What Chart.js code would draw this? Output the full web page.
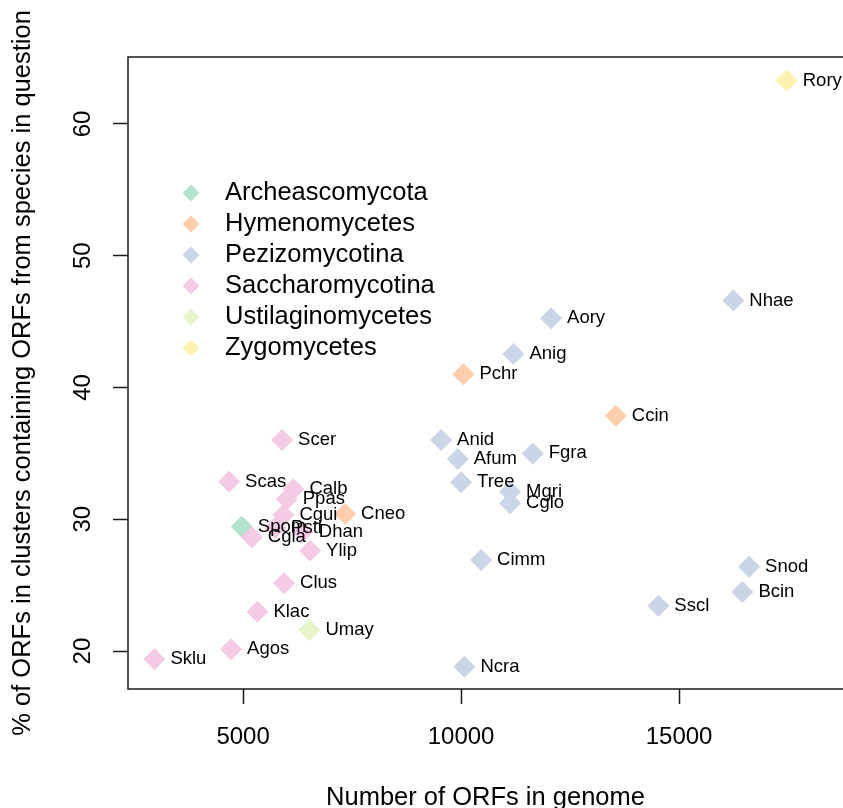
<!DOCTYPE html>
<html><head><meta charset="utf-8">
<script src="https://cdn.jsdelivr.net/npm/chart.js@4"></script>
<style>html,body{margin:0;padding:0;background:#fff;overflow:hidden}canvas{display:block}</style>
</head><body>
<canvas id="c" width="843" height="808"></canvas>
<script>
// ---- data ----
const species = ['Rory','Nhae','Aory','Anig','Pchr','Ccin','Anid','Afum','Fgra','Tree','Mgri','Cglo','Cimm','Ncra','Snod','Bcin','Sscl',
  'Scer','Scas','Calb','Ppas','Cgui','Cneo','Spom','Cgla','Psti','Dhan','Ylip','Clus','Klac','Umay','Agos','Sklu'];
const orfCounts = [17470,16245,12064,11200,10053,13548,9541,9924,11644,10000,11124,11124,10459,10076,16606,16452,14525,
  5894,4679,6154,6002,5924,7339,4970,5200,5734,6369,6537,5940,5328,6521,4725,2966];
const percentInClusters = [63.3,46.6,45.25,42.54,41.0,37.86,36.02,34.57,35.0,32.8,32.09,31.21,26.9,18.81,26.4,24.48,23.44,
  36.02,32.85,32.27,31.51,30.32,30.4,29.43,28.63,29.34,29.05,27.61,25.14,22.98,21.59,20.13,19.37];
const speciesClade = ['Zygomycetes','Pezizomycotina','Pezizomycotina','Pezizomycotina','Hymenomycetes','Hymenomycetes',
  'Pezizomycotina','Pezizomycotina','Pezizomycotina','Pezizomycotina','Pezizomycotina','Pezizomycotina','Pezizomycotina',
  'Pezizomycotina','Pezizomycotina','Pezizomycotina','Pezizomycotina',
  'Saccharomycotina','Saccharomycotina','Saccharomycotina','Saccharomycotina','Saccharomycotina','Hymenomycetes',
  'Archeascomycota','Saccharomycotina','Saccharomycotina','Saccharomycotina','Saccharomycotina','Saccharomycotina',
  'Saccharomycotina','Ustilaginomycetes','Saccharomycotina','Saccharomycotina'];
const clades = ['Archeascomycota','Hymenomycetes','Pezizomycotina','Saccharomycotina','Ustilaginomycetes','Zygomycetes'];
const xTicks = [5000,10000,15000];
const yTicks = [20,30,40,50,60];
const xTitle = 'Number of ORFs in genome';
const yTitle = '% of ORFs in clusters containing ORFs from species in question';

// ---- styles ----
const cladeColors = ['#B3E2CD','#FDCDAC','#CBD5E8','#F4CAE4','#E6F5C9','#FFF2AE'];
const FONT = "'Liberation Sans', Arial, Helvetica, sans-serif";
const AXIS_COLOR = '#1a1a1a';

const datasets = clades.map((cl, ci) => ({
  label: cl,
  data: species.map((s, i) => ({x: orfCounts[i], y: percentInClusters[i], name: s}))
               .filter((d, i) => speciesClade[i] === cl),
  pointStyle: 'rectRot',
  pointRadius: 11,
  pointHoverRadius: 11,
  pointBorderWidth: 0,
  backgroundColor: cladeColors[ci],
  borderColor: cladeColors[ci],
  order: cl === 'Saccharomycotina' ? 0 : 1
}));

const framePlugin = {
  id: 'frame',
  afterDraw(chart) {
    const {ctx, chartArea: a} = chart;
    ctx.save();
    ctx.strokeStyle = AXIS_COLOR; ctx.lineWidth = 1.5;
    ctx.beginPath();
    ctx.moveTo(a.right + 2, a.top); ctx.lineTo(a.left, a.top);
    ctx.lineTo(a.left, a.bottom); ctx.lineTo(a.right + 2, a.bottom);
    ctx.stroke();
    ctx.restore();
  }
};

const pointLabelPlugin = {
  id: 'pointLabels',
  afterDatasetsDraw(chart) {
    const ctx = chart.ctx;
    ctx.save();
    ctx.font = '18.5px ' + FONT;
    ctx.fillStyle = '#000';
    ctx.textBaseline = 'middle';
    ctx.textAlign = 'left';
    chart.data.datasets.forEach((ds, di) => {
      chart.getDatasetMeta(di).data.forEach((pt, i) => {
        ctx.fillText(ds.data[i].name, pt.x + 16, pt.y);
      });
    });
    ctx.restore();
  }
};

const insideLegendPlugin = {
  id: 'insideLegend',
  afterDraw(chart, args, opts) {
    const ctx = chart.ctx;
    ctx.save();
    ctx.font = opts.fontSize + 'px ' + FONT;
    ctx.textBaseline = 'middle';
    ctx.textAlign = 'left';
    chart.data.datasets.forEach((ds, i) => {
      const cx = opts.x, cy = opts.y + i * opts.step, r = opts.r;
      ctx.fillStyle = ds.backgroundColor;
      ctx.beginPath();
      ctx.moveTo(cx, cy - r); ctx.lineTo(cx + r, cy); ctx.lineTo(cx, cy + r); ctx.lineTo(cx - r, cy);
      ctx.closePath(); ctx.fill();
      ctx.fillStyle = '#000';
      ctx.fillText(ds.label, opts.textX, cy);
    });
    ctx.restore();
  }
};

new Chart(document.getElementById('c'), {
  type: 'scatter',
  data: {datasets},
  options: {
    responsive: false,
    animation: false,
    events: [],
    layout: {autoPadding: false, padding: {top: 57, right: 0, left: 0, bottom: 0}},
    plugins: {
      legend: {display: false},
      tooltip: {enabled: false},
      insideLegend: {x: 191, y: 193, step: 31, r: 8.5, textX: 225, fontSize: 25.5}
    },
    scales: {
      x: {
        type: 'linear', min: 2360, max: 18760,
        afterBuildTicks: s => { s.ticks = xTicks.map(v => ({value: v})); },
        afterFit: s => { s.height = 119; },
        grid: {drawOnChartArea: false, drawTicks: true, tickLength: 15, tickWidth: 1.5, tickColor: AXIS_COLOR},
        border: {display: false},
        ticks: {font: {family: FONT, size: 24}, color: '#000', padding: 19, maxRotation: 0, autoSkip: false,
                callback: v => String(v)},
        title: {display: true, text: xTitle, font: {family: FONT, size: 25.5}, color: '#000', padding: {top: 0, bottom: -5}}
      },
      y: {
        type: 'linear', min: 17.12, max: 65.08,
        afterBuildTicks: s => { s.ticks = yTicks.map(v => ({value: v})); },
        afterFit: s => { s.width = 128; },
        grid: {drawOnChartArea: false, drawTicks: true, tickLength: 15, tickWidth: 1.5, tickColor: AXIS_COLOR},
        border: {display: false},
        ticks: {font: {family: FONT, size: 24}, color: '#000', padding: 16, minRotation: 90, maxRotation: 90, crossAlign: 'center', autoSkip: false,
                callback: v => String(v)},
        title: {display: true, text: yTitle, font: {family: FONT, size: 25.5}, color: '#000', padding: {top: 8, bottom: 0}}
      }
    }
  },
  plugins: [framePlugin, pointLabelPlugin, insideLegendPlugin]
});
</script>
</body></html>
